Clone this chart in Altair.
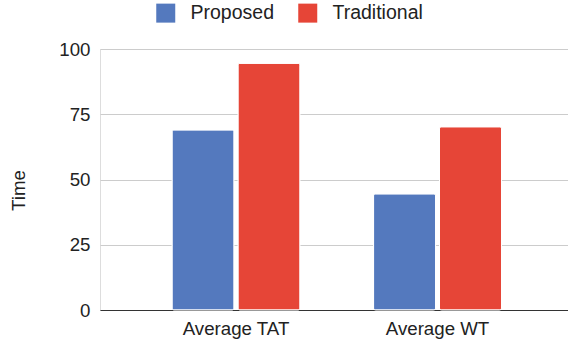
import altair as alt
import pandas as pd

categories = ["Average TAT", "Average WT"]
series = ["Proposed", "Traditional"]
proposed = [69.0, 44.5]
traditional = [94.5, 70.2]
colors = ["#5479BE", "#E64537"]

rows = []
for i, c in enumerate(categories):
    rows.append({"cat": c, "series": "Proposed", "value": proposed[i]})
    rows.append({"cat": c, "series": "Traditional", "value": traditional[i]})
df = pd.DataFrame(rows)

FONT = "Liberation Sans"

chart = alt.Chart(df).mark_bar(cornerRadius=2, stroke="white", strokeWidth=1).encode(
    x=alt.X("cat:N", sort=categories, title=None,
            scale=alt.Scale(paddingInner=0.365, paddingOuter=0.3437, align=0.52),
            axis=alt.Axis(labelAngle=0, labelFont=FONT, labelFontSize=18.7, labelColor="#222222",
                          tickSize=0, ticks=False, labelPadding=9, domainColor="#333333",
                          domainWidth=1, grid=False)),
    xOffset=alt.XOffset("series:N", sort=series, scale=alt.Scale(paddingInner=0.06, paddingOuter=0)),
    y=alt.Y("value:Q", title="Time",
            scale=alt.Scale(domain=[0, 100], nice=False),
            axis=alt.Axis(values=[0, 25, 50, 75, 100], labelFont=FONT, labelFontSize=18.7,
                          labelColor="#222222", ticks=False, domain=False, labelPadding=10,
                          gridColor="#cccccc", gridWidth=1,
                          titleFont=FONT, titleFontSize=18.7, titleFontWeight="normal",
                          titleColor="#222222", titleX=-76, titleY=141, titleAngle=270,
                          titleAlign="center", titleBaseline="alphabetic")),
    color=alt.Color("series:N", sort=series,
                    scale=alt.Scale(domain=series, range=colors),
                    legend=alt.Legend(title=None, orient="none", legendX=56, legendY=-46,
                                      direction="horizontal", symbolType="square",
                                      symbolSize=361, symbolStrokeWidth=0, symbolOpacity=1,
                                      labelFont=FONT, labelFontSize=19.5, labelColor="#222222",
                                      labelOffset=15, columnPadding=24)),
).properties(
    width=468, height=261,
    autosize=alt.AutoSizeParams(type="none"),
    padding={"left": 100, "top": 49, "right": 0, "bottom": 36},
).configure_view(stroke=None).configure(background="white")

chart.save("out.html", embed_options={"renderer": "svg", "actions": False})
